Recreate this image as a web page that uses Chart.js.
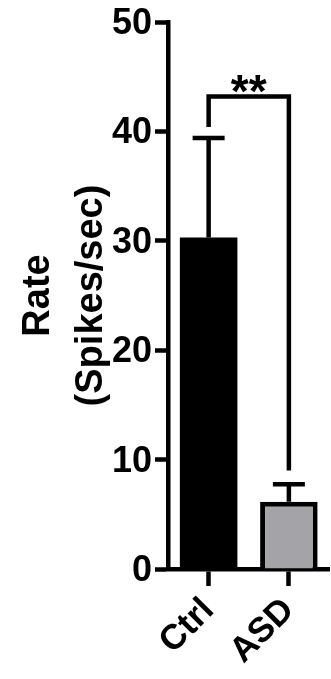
<!DOCTYPE html>
<html>
<head>
<meta charset="utf-8">
<script src="https://cdn.jsdelivr.net/npm/chart.js@4/dist/chart.umd.min.js"></script>
<style>
  html, body { margin: 0; padding: 0; background: #fff; overflow: hidden; }
  #rateChart { display: block; }
</style>
</head>
<body>
<canvas id="rateChart" width="331" height="679"></canvas>
<script>
const groups = ['Ctrl', 'ASD'];
const rateMeans = [30.3, 6.15];
const rateErrors = [9.1, 1.6];
const barColors = ['#000000', '#a3a3a8'];
const yTicks = [0, 10, 20, 30, 40, 50];
const sigLabel = '**';
const sigBarY = 43.2;
const sigLegEnds = [40.4, 9.0];

const FONT = '"Liberation Sans", Arial, sans-serif';

const errorBarPlugin = {
    id: 'errorBars',
    afterDatasetsDraw(chart) {
        const ctx = chart.ctx;
        const y = chart.scales.y;
        const bars = chart.getDatasetMeta(0).data;
        ctx.save();
        ctx.strokeStyle = '#000';
        ctx.fillStyle = '#000';
        ctx.lineWidth = 4.5;
        bars.forEach((bar, i) => {
            const top = y.getPixelForValue(rateMeans[i] + rateErrors[i]);
            const base = y.getPixelForValue(rateMeans[i]);
            ctx.beginPath();
            ctx.moveTo(bar.x, base);
            ctx.lineTo(bar.x, top);
            ctx.moveTo(bar.x - 16, top);
            ctx.lineTo(bar.x + 16, top);
            ctx.stroke();
        });

        // significance bracket
        const xl = bars[0].x;
        const xr = bars[1].x;
        const yTop = y.getPixelForValue(sigBarY);
        ctx.lineJoin = 'miter';
        ctx.beginPath();
        ctx.moveTo(xl, y.getPixelForValue(sigLegEnds[0]));
        ctx.lineTo(xl, yTop);
        ctx.lineTo(xr, yTop);
        ctx.lineTo(xr, y.getPixelForValue(sigLegEnds[1]));
        ctx.stroke();

        ctx.font = 'bold 46px ' + FONT;
        ctx.textAlign = 'center';
        ctx.textBaseline = 'alphabetic';
        ctx.fillText(sigLabel, (xl + xr) / 2, yTop + 11);
        ctx.restore();
    }
};

const ctx = document.getElementById('rateChart').getContext('2d');
new Chart(ctx, {
    type: 'bar',
    data: {
        labels: groups,
        datasets: [{
            data: rateMeans,
            backgroundColor: barColors,
            borderColor: '#000',
            // the black bar needs no outline
            borderWidth: c => c.dataIndex === 0 ? 0 : { top: 5, left: 5, right: 5, bottom: 0 },
            borderSkipped: 'start',
            barPercentage: 0.717,
            categoryPercentage: 1
        }]
    },
    options: {
        responsive: false,
        animation: false,
        devicePixelRatio: 1,
        layout: {
            padding: { left: 12, top: 22, right: 2, bottom: 0 }
        },
        plugins: {
            legend: { display: false },
            tooltip: { enabled: false }
        },
        scales: {
            x: {
                offset: true,
                grid: {
                    drawOnChartArea: false,
                    offset: false,
                    tickLength: 17,
                    tickWidth: 4.5,
                    tickColor: '#000'
                },
                border: { color: '#000', width: 4.5 },
                ticks: {
                    color: '#000',
                    font: { family: FONT, weight: 'bold', size: 35 },
                    minRotation: 45,
                    maxRotation: 45,
                    padding: 4
                },
                afterFit(scale) { scale.height = 110; }
            },
            y: {
                min: 0,
                max: 50,
                afterBuildTicks(scale) {
                    scale.ticks = yTicks.map(v => ({ value: v }));
                },
                grid: {
                    drawOnChartArea: false,
                    tickLength: 13.5,
                    tickWidth: 4.5,
                    tickColor: '#000'
                },
                border: { color: '#000', width: 4.5 },
                ticks: {
                    color: '#000',
                    font: { family: FONT, weight: 'bold', size: 36, lineHeight: 1 },
                    padding: 3,
                    labelOffset: 2
                },
                title: {
                    display: true,
                    text: ['Rate', '(Spikes/sec)'],
                    color: '#000',
                    font: { family: FONT, weight: 'bold', size: 38, lineHeight: 1.395 },
                    padding: 0
                },
                afterFit(scale) { scale.width = 156.5; }
            }
        }
    },
    plugins: [errorBarPlugin]
});
</script>
</body>
</html>
